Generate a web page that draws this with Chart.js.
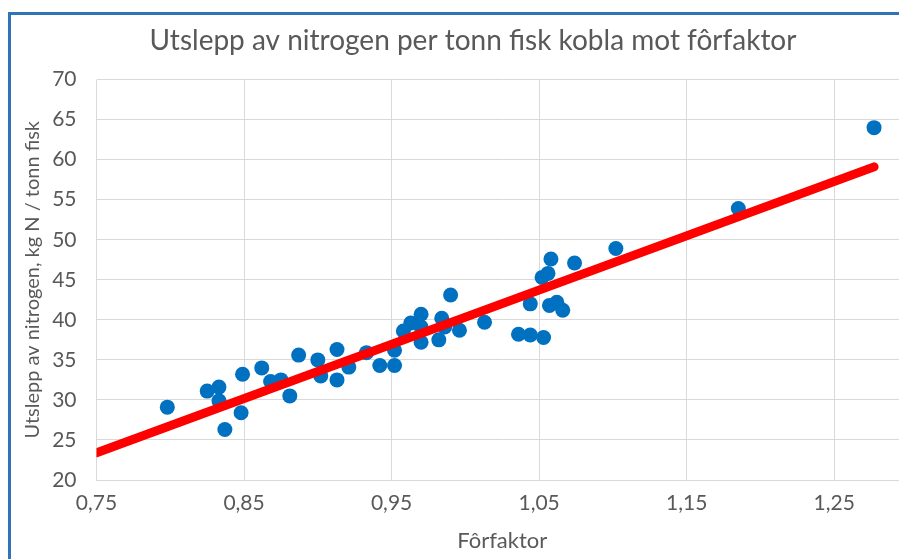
<!DOCTYPE html>
<html>
<head>
<meta charset="utf-8">
<script src="https://cdn.jsdelivr.net/npm/chart.js@4"></script>
<style>
  body { margin: 0; background: #fff; overflow: hidden; }
  #frame {
    position: absolute; left: 8px; top: 12px; width: 950px; height: 600px;
    border-left: 3px solid #2f75b5; border-top: 3px solid #2f75b5;
    background: #fff;
  }
  #wrap { position: absolute; left: 0; top: 0; width: 924px; height: 560px; }
</style>
</head>
<body>
<div id="frame"><div id="wrap"><canvas id="chart"></canvas></div></div>
<script>
// fôrfaktor (x) og utslepp kg N / tonn fisk (y), lest av figuren
const forfaktor = [
  0.798, 0.825, 0.833, 0.833, 0.837, 0.849, 0.848, 0.862, 0.868, 0.875,
  0.881, 0.887, 0.900, 0.902, 0.913, 0.913, 0.921, 0.933, 0.942, 0.952,
  0.952, 0.958, 0.963, 0.970, 0.970, 0.970, 0.982, 0.984, 0.986, 0.990,
  0.996, 1.013, 1.036, 1.044, 1.053, 1.044, 1.052, 1.056, 1.058, 1.057,
  1.062, 1.066, 1.074, 1.102, 1.185, 1.277
];
const utslepp = [
  29.1, 31.1, 31.6, 29.9, 26.3, 33.2, 28.4, 34.0, 32.3, 32.5,
  30.5, 35.6, 35.0, 33.0, 36.3, 32.5, 34.1, 35.9, 34.3, 34.3,
  36.2, 38.6, 39.6, 40.7, 39.1, 37.2, 37.5, 40.2, 39.1, 43.1,
  38.7, 39.7, 38.2, 38.1, 37.8, 42.0, 45.3, 45.8, 47.6, 41.8,
  42.2, 41.2, 47.1, 48.9, 53.9, 64.0
];
// lineær trendlinje, endepunkt
const trendX = [0.75, 1.277];
const trendY = [23.4, 59.1];

const xTicks = [0.75, 0.85, 0.95, 1.05, 1.15, 1.25];
const yTicks = [20, 25, 30, 35, 40, 45, 50, 55, 60, 65, 70];

const grey = "#595959";
const gridGrey = "#d9d9d9";
const fontFam = "Lato, 'Open Sans', sans-serif";

const points = forfaktor.map((x, i) => ({ x: x, y: utslepp[i] }));
const trend = trendX.map((x, i) => ({ x: x, y: trendY[i] }));

new Chart(document.getElementById("chart").getContext("2d"), {
  type: "scatter",
  data: {
    datasets: [
      {
        type: "line",
        data: trend,
        borderColor: "#ff0000",
        borderWidth: 9,
        borderCapStyle: "round",
        pointRadius: 0,
        fill: false,
      },
      {
        data: points,
        backgroundColor: "#0070c0",
        borderColor: "#0070c0",
        borderWidth: 0,
        pointRadius: 7.5,
        pointHoverRadius: 7.5,
      },
    ],
  },
  options: {
    responsive: true,
    maintainAspectRatio: false,
    animation: false,
    layout: { padding: 0 },
    plugins: {
      legend: { display: false },
      tooltip: { enabled: false },
      title: {
        display: true,
        text: "Utslepp av nitrogen per tonn fisk kobla mot fôrfaktor",
        color: grey,
        font: { family: fontFam, size: 28, weight: "normal" },
        padding: { top: 9, bottom: 22 },
      },
    },
    scales: {
      x: {
        type: "linear",
        min: 0.75,
        max: 1.3,
        afterBuildTicks: (s) => { s.ticks = xTicks.map((v) => ({ value: v })); },
        afterFit: (s) => { s.height = 95; },
        grid: { color: gridGrey, drawTicks: false },
        border: { color: gridGrey },
        ticks: {
          color: grey,
          padding: 11,
          font: { family: fontFam, size: 21 },
          callback: (v) => v.toFixed(2).replace(".", ","),
        },
        title: {
          display: true,
          text: "Fôrfaktor",
          color: grey,
          font: { family: fontFam, size: 22 },
          padding: { top: 0, bottom: 21 },
        },
      },
      y: {
        min: 20,
        max: 70,
        afterBuildTicks: (s) => { s.ticks = yTicks.map((v) => ({ value: v })); },
        afterFit: (s) => { s.width = 85.5; },
        grid: { color: gridGrey, drawTicks: false },
        border: { display: false },
        ticks: {
          color: grey,
          padding: 20,
          font: { family: fontFam, size: 21 },
        },
        title: {
          display: true,
          text: "Utslepp av nitrogen, kg N / tonn fisk",
          color: grey,
          font: { family: fontFam, size: 20 },
          padding: { top: 10, bottom: 0 },
        },
      },
      // tom akse til høgre, held att plass så tittelen står midt i figuren
      yRight: {
        position: "right",
        min: 20,
        max: 70,
        afterFit: (s) => { s.width = 27; },
        grid: { display: false },
        border: { display: false },
        ticks: { display: false },
      },
    },
  },
});
</script>
</body>
</html>
